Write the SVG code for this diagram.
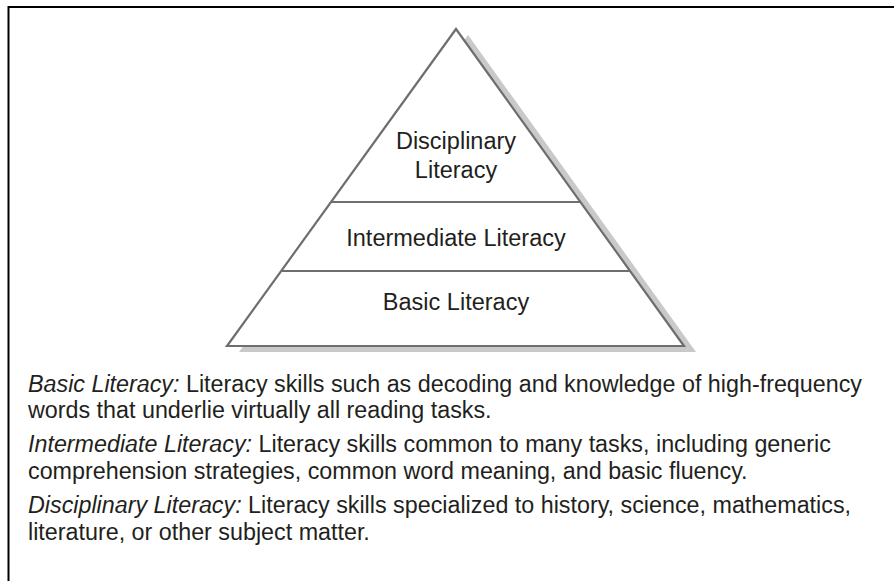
<svg xmlns="http://www.w3.org/2000/svg" width="894" height="581" viewBox="0 0 894 581">
<style>
.t{font-family:"Liberation Sans",Arial,Helvetica,sans-serif;fill:#231f20;}
.c{text-anchor:middle;font-size:23.5px;}
.b{font-size:23.3px;}
.i{font-style:italic;}
.edge{stroke:#6e6e6e;stroke-width:2.2;}
.face{fill:#ffffff;}
</style>
<rect x="0" y="0" width="894" height="581" fill="#ffffff"/>
<g id="frame">
<path d="M8.5 581 V7 H894" fill="none" stroke="#000" stroke-width="2"/>
</g>
<g id="pyramid">
<polygon points="468,35 696,352 239,352" fill="#c9c9c9"/>
<polygon points="456,29 684,346 227,346" class="edge face"/>
</g>
<g id="connectors">
<line x1="331" y1="202" x2="580" y2="202" class="edge"/>
<line x1="281.5" y1="271" x2="630" y2="271" class="edge"/>
</g>
<g id="node-disciplinary">
<text class="t c" x="456" y="149">Disciplinary</text>
<text class="t c" x="456" y="178">Literacy</text>
</g>
<g id="node-intermediate">
<text class="t c" x="456" y="246">Intermediate Literacy</text>
</g>
<g id="node-basic">
<text class="t c" x="456" y="310">Basic Literacy</text>
</g>
<g id="legend">
<text class="t b" x="28" y="392"><tspan class="i">Basic Literacy:</tspan> Literacy skills such as decoding and knowledge of high-frequency</text>
<text class="t b" x="28" y="418">words that underlie virtually all reading tasks.</text>
<text class="t b" x="28" y="452"><tspan class="i">Intermediate Literacy:</tspan> Literacy skills common to many tasks, including generic</text>
<text class="t b" x="28" y="479">comprehension strategies, common word meaning, and basic fluency.</text>
<text class="t b" x="28" y="513"><tspan class="i">Disciplinary Literacy:</tspan> Literacy skills specialized to history, science, mathematics,</text>
<text class="t b" x="28" y="540">literature, or other subject matter.</text>
</g>
</svg>
